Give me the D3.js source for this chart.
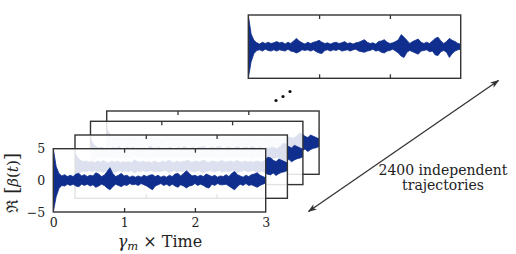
<!DOCTYPE html>
<html>
<head>
<meta charset="utf-8">
<script src="https://cdn.jsdelivr.net/npm/d3@7"></script>
<style>
  body { margin: 0; background: #fff; }
  svg { display: block; }
  text { font-family: "DejaVu Serif", "Liberation Serif", serif; fill: #222; }
</style>
</head>
<body>
<div id="chart"></div>
<script>
// data: upper / lower envelope of Re[beta(t)], one value every 0.04 time units
var sampleStep = 0.04
var frontUp = [5.0,2.2,1.1,0.7,0.9,0.6,0.8,0.6,1.0,1.1,0.7,0.9,0.6,0.8,0.7,1.2,1.0,0.6,0.8,1.4,
  2.0,1.1,0.6,0.8,1.1,0.7,0.8,0.5,0.7,0.5,0.7,0.5,0.8,0.6,0.8,0.9,0.6,0.8,0.5,0.7,
  0.5,0.8,0.6,1.0,1.1,0.7,1.1,1.5,1.1,0.7,0.8,0.6,0.8,0.6,1.0,0.8,0.6,0.8,0.5,0.7,
  0.6,0.9,0.6,1.1,1.4,0.9,0.7,0.5,0.8,0.6,0.9,1.0,1.2,0.8,0.6,0.4]
var frontLo = [-5.0,-2.6,-1.3,-0.8,-0.9,-0.6,-0.8,-0.6,-0.9,-1.0,-0.6,-0.8,-0.6,-0.9,-0.7,-1.1,-0.9,-0.6,-0.8,-1.2,
  -1.5,-1.0,-0.6,-0.8,-1.0,-0.7,-0.8,-0.5,-0.7,-0.6,-0.8,-0.5,-0.7,-0.9,-1.2,-1.5,-0.9,-0.7,-0.5,-0.8,
  -0.6,-0.9,-0.6,-0.9,-1.1,-0.7,-0.9,-1.2,-0.9,-0.8,-0.5,-0.8,-0.6,-0.8,-1.1,-1.2,-0.6,-0.8,-0.5,-0.7,
  -0.7,-0.6,-0.9,-1.2,-1.5,-1.0,-0.6,-0.8,-0.5,-0.8,-0.7,-0.9,-1.1,-0.8,-0.6,-0.4]
var topUp = [5.0,2.0,1.0,0.6,0.4,0.7,0.5,0.7,0.5,0.6,0.8,0.6,0.7,0.4,0.7,0.5,0.9,1.3,0.9,0.6,
  0.4,0.7,0.5,0.7,0.8,1.0,0.7,0.5,0.6,0.4,0.6,0.7,0.5,0.6,0.8,0.5,0.6,0.4,0.6,0.7,
  0.9,1.1,0.7,0.5,0.6,0.4,0.8,0.9,1.1,0.7,0.5,0.6,0.8,1.1,1.9,1.5,1.0,0.5,0.8,1.0,
  1.2,0.7,0.5,0.7,0.5,0.9,1.3,1.5,0.9,0.5,0.8,1.3,1.0,0.8,0.5,0.4]
var topLo = [-5.0,-2.4,-1.1,-0.6,-0.5,-0.7,-0.4,-0.6,-0.7,-0.5,-0.7,-0.5,-0.6,-0.7,-0.4,-0.7,-0.8,-1.0,-0.8,-0.5,
  -0.6,-0.5,-0.7,-0.5,-0.8,-1.0,-1.1,-0.6,-0.5,-0.7,-0.5,-0.6,-0.4,-0.7,-0.6,-0.5,-0.7,-0.5,-0.4,-0.7,
  -0.8,-0.9,-0.7,-0.6,-0.4,-0.7,-0.6,-0.9,-1.0,-0.7,-0.6,-0.4,-0.7,-1.0,-1.5,-1.7,-0.9,-0.6,-0.8,-1.0,
  -1.2,-0.7,-0.6,-0.5,-0.8,-0.7,-1.3,-1.4,-0.8,-0.6,-0.9,-1.7,-1.1,-0.7,-0.5,-0.4]
var backUp = [2.2,1.4,1.0,0.8,0.9,0.7,0.8,0.6,0.9,0.7,1.0,0.7,0.6,0.9,0.7,0.9,0.6,0.8,0.7,0.8,
  0.6,1.1,0.8,0.7,0.9,0.7,0.8,0.6,0.9,0.7,0.6,0.9,0.7,1.0,0.8,0.6,0.9,0.7,0.8,0.9,
  1.0,0.7,0.8,0.9,0.7,1.0,0.9,0.6,0.8,0.9,0.7,0.8,1.0,0.7,0.8,0.9,0.7,1.0,0.8,0.7,
  0.9,0.7,0.8,0.7,0.9,0.8,0.7,1.0,1.5,1.4,1.0,0.8,1.2,1.0,0.8,0.6]
var backLo = [-1.6,-1.2,-0.9,-0.7,-0.8,-0.6,-0.8,-0.6,-0.8,-0.7,-0.9,-0.6,-0.8,-0.7,-0.9,-0.7,-0.6,-0.8,-0.7,-0.8,
  -0.6,-1.0,-0.7,-0.8,-0.6,-0.8,-0.7,-0.6,-0.8,-0.7,-0.8,-0.7,-0.6,-0.9,-0.8,-0.6,-0.8,-0.7,-0.8,-0.6,
  -0.9,-0.7,-0.8,-0.7,-0.6,-1.0,-0.8,-0.7,-0.6,-0.8,-0.7,-0.6,-0.9,-0.7,-0.8,-0.7,-0.6,-1.0,-0.8,-0.7,
  -0.6,-0.8,-0.7,-0.6,-0.9,-0.8,-0.7,-0.9,-1.2,-1.3,-1.0,-1.4,-1.1,-0.9,-0.8,-0.6]
var xTickLabels = [0, 1, 2, 3]
var yTickLabels = [-5, 0, 5]
var innerTicks = [1, 2]
var annotation = ["2400 independent", "trajectories"]

// layout
var width = 516, height = 254
var pw = 212.4, ph = 63.3
var blue = "#0f2e8e"
var panels = [
  {x: 248.3, y: 15,    up: topUp,   lo: topLo,   fill: 1},
  {x: 106.7, y: 111,   up: backUp,  lo: backLo,  fill: 0.86},
  {x: 90.5,  y: 121.3, up: backUp,  lo: backLo,  fill: 0.86},
  {x: 75,    y: 135,   up: backUp,  lo: backLo,  fill: 0.86},
  {x: 53.3,  y: 148.7, up: frontUp, lo: frontLo, fill: 0.86, labels: true}
]

var xscale = d3.scaleLinear().domain([0, 3]).range([0, pw])
var yscale = d3.scaleLinear().domain([-5, 5]).range([ph, 0])

var svg = d3.select("#chart").append("svg")
  .attr("width", width).attr("height", height)

var defs = svg.append("defs")
defs.append("clipPath").attr("id", "pclip")
  .append("rect").attr("width", pw).attr("height", ph)

var area = d3.area()
  .x(function(d, i){ return xscale(i * sampleStep) })
  .y0(function(d){ return yscale(d[1]) })
  .y1(function(d){ return yscale(d[0]) })

panels.forEach(function(p){
  var g = svg.append("g").attr("transform", "translate(" + p.x + "," + p.y + ")")
  g.append("rect").attr("width", pw).attr("height", ph)
    .attr("fill", "white").attr("fill-opacity", p.fill)
  var pts = p.up.map(function(u, i){ return [u, p.lo[i]] })
  g.append("path").datum(pts)
    .attr("clip-path", "url(#pclip)")
    .attr("d", area)
    .attr("fill", blue).attr("stroke", blue).attr("stroke-width", 0.8)

  // inward ticks, top and bottom
  g.append("g").call(d3.axisBottom(xscale).tickValues(innerTicks).tickSize(4).tickFormat(""))
  g.append("g").attr("transform", "translate(0," + ph + ")")
    .call(d3.axisTop(xscale).tickValues(innerTicks).tickSize(4).tickFormat(""))
  g.selectAll(".domain").remove()
  g.selectAll(".tick line").attr("stroke", "#333").attr("stroke-width", 1.3)

  g.append("rect").attr("width", pw).attr("height", ph)
    .attr("fill", "none").attr("stroke", "#333").attr("stroke-width", 1.4)

  if (p.labels){
    var xa = g.append("g").attr("transform", "translate(0," + ph + ")")
      .call(d3.axisBottom(xscale).tickValues(xTickLabels).tickSize(0).tickPadding(6.5).tickFormat(d3.format("d")))
    var ya = g.append("g")
      .call(d3.axisLeft(yscale).tickValues(yTickLabels).tickSize(0).tickPadding(8).tickFormat(d3.format("d")))
    xa.select(".domain").remove()
    ya.select(".domain").remove()
    g.selectAll(".tick text").attr("font-size", 12.5).attr("fill", "#222")
      .attr("font-family", "DejaVu Serif, serif")
  }
})

// axis titles
var xl = svg.append("text").attr("x", 160).attr("y", 247)
  .attr("text-anchor", "middle").attr("font-size", 16)
xl.append("tspan").attr("font-style", "italic").text("γ")
xl.append("tspan").attr("font-style", "italic").attr("font-size", 11.5).attr("dy", 3).text("m")
xl.append("tspan").attr("dy", -3).text(" × Time")

var yl = svg.append("text").attr("transform", "translate(18,183) rotate(-90)")
  .attr("text-anchor", "middle").attr("font-size", 15)
yl.append("tspan").attr("font-size", 16).text("ℜ ")
yl.append("tspan").attr("font-size", 19).text("[")
yl.append("tspan").attr("font-style", "italic").text("β")
yl.append("tspan").text("(")
yl.append("tspan").attr("font-style", "italic").text("t")
yl.append("tspan").text(")")
yl.append("tspan").attr("font-size", 19).text("]")

// ellipsis dots
svg.selectAll("circle.dot").data([[276, 100.5], [283, 96.5], [290, 91.5]])
  .enter().append("circle").attr("class", "dot")
  .attr("cx", function(d){ return d[0] }).attr("cy", function(d){ return d[1] })
  .attr("r", 1.6).attr("fill", "#111")

// double-headed arrow
defs.append("marker").attr("id", "ah")
  .attr("viewBox", "0 0 10 10").attr("refX", 9).attr("refY", 5)
  .attr("markerWidth", 9).attr("markerHeight", 9).attr("markerUnits", "userSpaceOnUse")
  .attr("orient", "auto-start-reverse")
  .append("path").attr("d", "M0,1.5 L10,5 L0,8.5 L2.5,5 Z").attr("fill", "#333")
svg.append("line").attr("x1", 308.5).attr("y1", 211.5).attr("x2", 498.5).attr("y2", 80.5)
  .attr("stroke", "#333").attr("stroke-width", 1.3)
  .attr("marker-start", "url(#ah)").attr("marker-end", "url(#ah)")

svg.selectAll("text.note").data(annotation).enter().append("text").attr("class", "note")
  .attr("x", 443).attr("y", function(d, i){ return 175 + i * 14.5 })
  .attr("text-anchor", "middle").attr("font-size", 14)
  .text(function(d){ return d })
</script>
</body>
</html>
